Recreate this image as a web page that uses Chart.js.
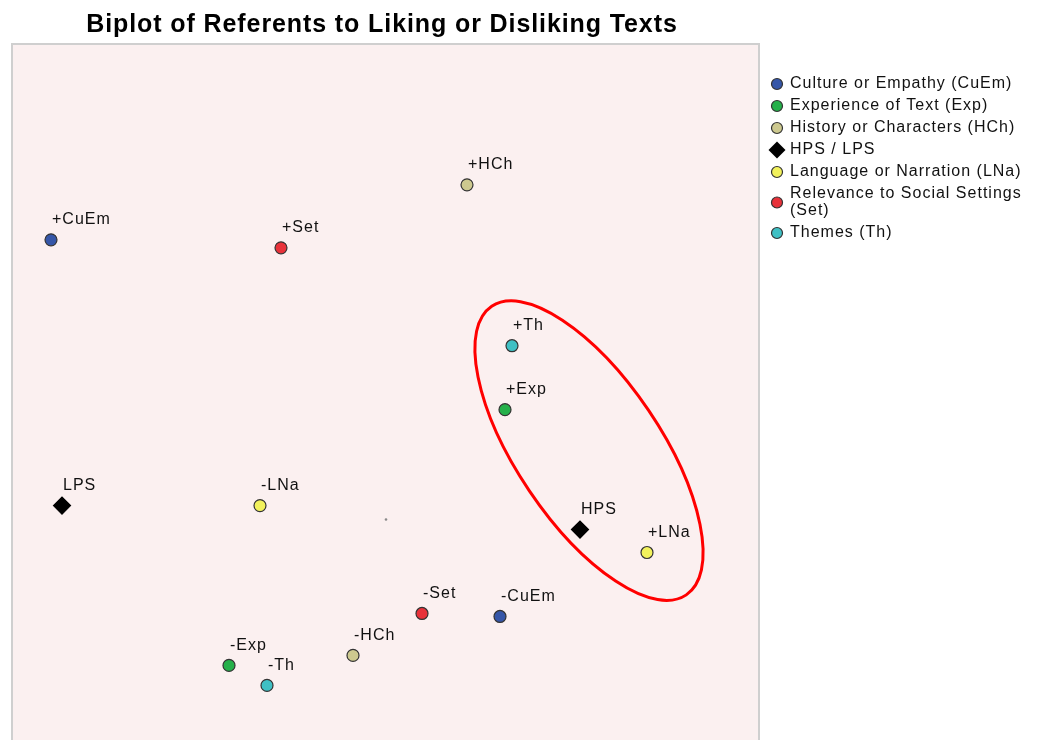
<!DOCTYPE html>
<html>
<head>
<meta charset="utf-8">
<script src="https://cdn.jsdelivr.net/npm/chart.js@4"></script>
<style>
  html, body { margin: 0; padding: 0; background: #fff; overflow: hidden; }
  #wrap { width: 1038px; height: 800px; }
</style>
</head>
<body>
<div id="wrap"><canvas id="biplot"></canvas></div>
<script>
// Chart data
const chartTitle = 'Biplot of Referents to Liking or Disliking Texts';
const groupNames = ['Culture or Empathy (CuEm)', 'Experience of Text (Exp)', 'History or Characters (HCh)', 'HPS / LPS', 'Language or Narration (LNa)', ['Relevance to Social Settings', '(Set)'], 'Themes (Th)'];
const groupColors = ['#3556a8', '#25b04a', '#cdc98f', '#000000', '#f2f25c', '#e8323a', '#3fc0c4'];

const pointLabels = ['+CuEm', '-CuEm', '+Exp', '-Exp', '+HCh', '-HCh', 'HPS', 'LPS', '+LNa', '-LNa', '+Set', '-Set', '+Th', '-Th'];
const pointGroup  = [0, 0, 1, 1, 2, 2, 3, 3, 4, 4, 5, 5, 6, 6];
const xValues = [-3.35, 1.14, 1.19, -1.57, 0.81, -0.33, 1.94, -3.24, 2.61, -1.26, -1.05, 0.36, 1.26, -1.19];
const yValues = [2.80, -0.97, 1.10, -1.46, 3.35, -1.36, -0.10, 0.14, -0.33, 0.14, 2.72, -0.94, 1.74, -1.66];

// ellipse drawn round the high group: centre, half axes, tilt (degrees)
const ellipseCenter = [2.03, 0.69];
const ellipseAxes = [1.74, 0.72];
const ellipseTilt = -56;

const FONT = 'Arial, "Liberation Sans", sans-serif';

// one dataset per group
const datasets = groupNames.map((name, g) => {
  const pts = [];
  const lbls = [];
  pointGroup.forEach((pg, i) => {
    if (pg === g) {
      pts.push({ x: xValues[i], y: yValues[i] });
      lbls.push(pointLabels[i]);
    }
  });
  const isDiamond = g === 3;
  return {
    label: Array.isArray(name) ? name.join(' ') : name,
    data: pts,
    pointLabels: lbls,
    pointStyle: isDiamond ? 'rectRot' : 'circle',
    pointRadius: isDiamond ? 8.5 : 6,
    pointHoverRadius: isDiamond ? 8.5 : 6,
    backgroundColor: groupColors[g],
    borderColor: isDiamond ? '#000' : '#333',
    borderWidth: 1.2
  };
});
// origin marker
datasets.push({
  label: 'origin',
  data: [{ x: 0, y: 0 }],
  pointRadius: 1.3,
  backgroundColor: '#8a8a8a',
  borderColor: '#8a8a8a',
  borderWidth: 0,
  noLabel: true
});

const decor = {
  id: 'decor',
  beforeDatasetsDraw(chart) {
    const { ctx, chartArea: a } = chart;
    ctx.save();
    ctx.fillStyle = '#fbf0f0';
    ctx.fillRect(a.left, a.top, a.right - a.left, a.bottom - a.top);
    ctx.strokeStyle = '#cfcfcf';
    ctx.lineWidth = 2;
    ctx.strokeRect(a.left, a.top, a.right - a.left, a.bottom - a.top);
    // title
    ctx.font = 'bold 25px ' + FONT;
    ctx.letterSpacing = '0.9px';
    ctx.fillStyle = '#000';
    ctx.textAlign = 'center';
    ctx.textBaseline = 'middle';
    ctx.fillText(chartTitle, 382, 25);
    ctx.restore();
  },
  afterDatasetsDraw(chart) {
    const { ctx, scales: { x, y } } = chart;
    ctx.save();
    // point labels
    ctx.font = '16px ' + FONT;
    ctx.letterSpacing = '1px';
    ctx.fillStyle = '#111';
    ctx.textAlign = 'left';
    ctx.textBaseline = 'middle';
    chart.data.datasets.forEach((ds, di) => {
      if (ds.noLabel) return;
      chart.getDatasetMeta(di).data.forEach((el, i) => {
        ctx.fillText(ds.pointLabels[i], el.x + 1, el.y - 20);
      });
    });
    // ellipse
    const cx = x.getPixelForValue(ellipseCenter[0]);
    const cy = y.getPixelForValue(ellipseCenter[1]);
    const rx = x.getPixelForValue(ellipseCenter[0] + ellipseAxes[0]) - cx;
    const ry = cy - y.getPixelForValue(ellipseCenter[1] + ellipseAxes[1]);
    ctx.beginPath();
    ctx.ellipse(cx, cy, rx, ry, -ellipseTilt * Math.PI / 180, 0, Math.PI * 2);
    ctx.strokeStyle = '#f00';
    ctx.lineWidth = 3;
    ctx.stroke();

    // legend
    const lx = 777, tx = 790;
    let ly = 84;
    ctx.textBaseline = 'middle';
    groupNames.forEach((name, g) => {
      const lines = Array.isArray(name) ? name : [name];
      const cyL = ly + (lines.length - 1) * 17 / 2;
      ctx.beginPath();
      if (g === 3) {
        ctx.moveTo(lx, cyL - 8.5);
        ctx.lineTo(lx + 8.5, cyL);
        ctx.lineTo(lx, cyL + 8.5);
        ctx.lineTo(lx - 8.5, cyL);
        ctx.closePath();
        ctx.fillStyle = '#000';
        ctx.fill();
      } else {
        ctx.arc(lx, cyL, 5.5, 0, Math.PI * 2);
        ctx.fillStyle = groupColors[g];
        ctx.fill();
        ctx.strokeStyle = '#333';
        ctx.lineWidth = 1.2;
        ctx.stroke();
      }
      ctx.fillStyle = '#111';
      lines.forEach((t, k) => ctx.fillText(t, tx, ly + k * 17));
      ly += 22 + (lines.length - 1) * 17;
    });
    ctx.restore();
  }
};

new Chart(document.getElementById('biplot'), {
  type: 'scatter',
  data: { datasets },
  options: {
    responsive: true,
    maintainAspectRatio: false,
    animation: false,
    layout: { padding: { left: 12, right: 279, top: 44, bottom: 5 } },
    scales: {
      x: { display: false, min: -3.74, max: 3.73 },
      y: { display: false, min: -2.71, max: 4.76 }
    },
    plugins: {
      legend: { display: false },
      tooltip: { enabled: false },
      title: { display: false }
    }
  },
  plugins: [decor]
});
</script>
</body>
</html>
